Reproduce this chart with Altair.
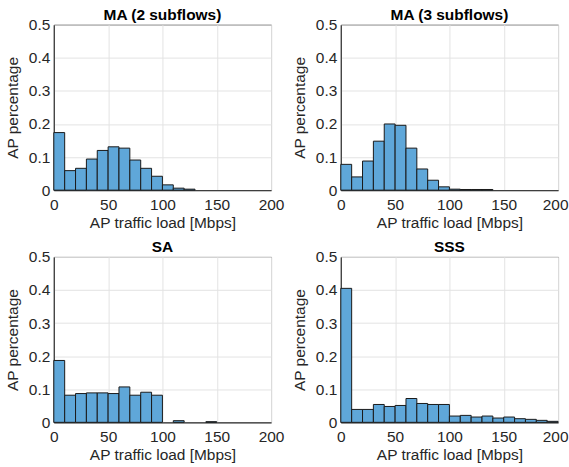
import altair as alt
import pandas as pd

bin_starts = list(range(0, 200, 10))

ma2 = [0.174, 0.059, 0.066, 0.094, 0.120, 0.131, 0.127, 0.091, 0.066, 0.042,
       0.016, 0.006, 0.003, 0, 0, 0, 0, 0, 0, 0]
ma3 = [0.078, 0.040, 0.088, 0.148, 0.200, 0.196, 0.127, 0.064, 0.030, 0.010,
       0.003, 0.002, 0.002, 0.002, 0, 0, 0, 0, 0, 0]
sa = [0.187, 0.082, 0.087, 0.089, 0.089, 0.087, 0.107, 0.082, 0.091, 0.082,
      0, 0.005, 0, 0, 0.002, 0, 0, 0, 0, 0]
sss = [0.405, 0.039, 0.039, 0.054, 0.048, 0.051, 0.072, 0.057, 0.054, 0.054,
       0.019, 0.021, 0.016, 0.019, 0.013, 0.016, 0.011, 0.009, 0.006, 0.003]

titles = ["MA (2 subflows)", "MA (3 subflows)", "SA", "SSS"]
series = [ma2, ma3, sa, sss]

FONT = "Liberation Sans"
FS = 15.5
W, H = 218, 166


def panel(title, vals, right_col):
    df = pd.DataFrame({
        "start": bin_starts,
        "end": [b + 10 for b in bin_starts],
        "value": vals,
    })
    df = df[df["value"] > 0]
    xaxis_kw = dict(values=[0, 50, 100, 150, 200], title="AP traffic load [Mbps]")
    if right_col:
        # the figure edge crops the last label in the reference; keep it inside
        xaxis_kw["labelAlign"] = {"condition": {"test": "datum.value == 200", "value": "right"},
                                  "value": "center"}
        xaxis_kw["labelOffset"] = {"condition": {"test": "datum.value == 200", "value": 10},
                                   "value": 0}
    return alt.Chart(df).mark_rect(
        fill="#5FA7D9", stroke="#1a1a1a", strokeWidth=1
    ).encode(
        x=alt.X("start:Q", scale=alt.Scale(domain=[0, 200], nice=False),
                axis=alt.Axis(**xaxis_kw)),
        x2="end:Q",
        y=alt.Y("value:Q", scale=alt.Scale(domain=[0, 0.5], nice=False),
                axis=alt.Axis(values=[0, 0.1, 0.2, 0.3, 0.4, 0.5],
                              labelExpr="datum.value == 0 ? '0' : format(datum.value, '.1f')",
                              title="AP percentage")),
        y2=alt.datum(0),
    ).properties(
        width=W, height=H,
        title=alt.TitleParams(title, font=FONT, fontSize=FS, fontWeight="bold",
                              color="#000000", offset=-6, frame="group"),
    )


charts = [panel(t, v, i % 2 == 1) for i, (t, v) in enumerate(zip(titles, series))]

chart = alt.concat(
    *charts, columns=2, spacing={"row": 67, "column": 70}, bounds="flush",
).properties(
    padding={"left": 4, "top": 7, "right": 0, "bottom": 1},
).configure_view(
    stroke="#262626", strokeWidth=1
).configure_axis(
    labelFont=FONT, titleFont=FONT, labelFontSize=FS, titleFontSize=FS,
    labelColor="#262626", titleColor="#262626", titleFontWeight="normal",
    gridColor="#e3e3e3", gridWidth=1, domainColor="#262626",
    ticks=False, labelFlush=False,
).configure_axisY(
    titlePadding=8, labelPadding=4,
).configure_axisX(
    titlePadding=3, labelPadding=7,
)

chart.save("out.html", embed_options={"renderer": "svg", "actions": False})
